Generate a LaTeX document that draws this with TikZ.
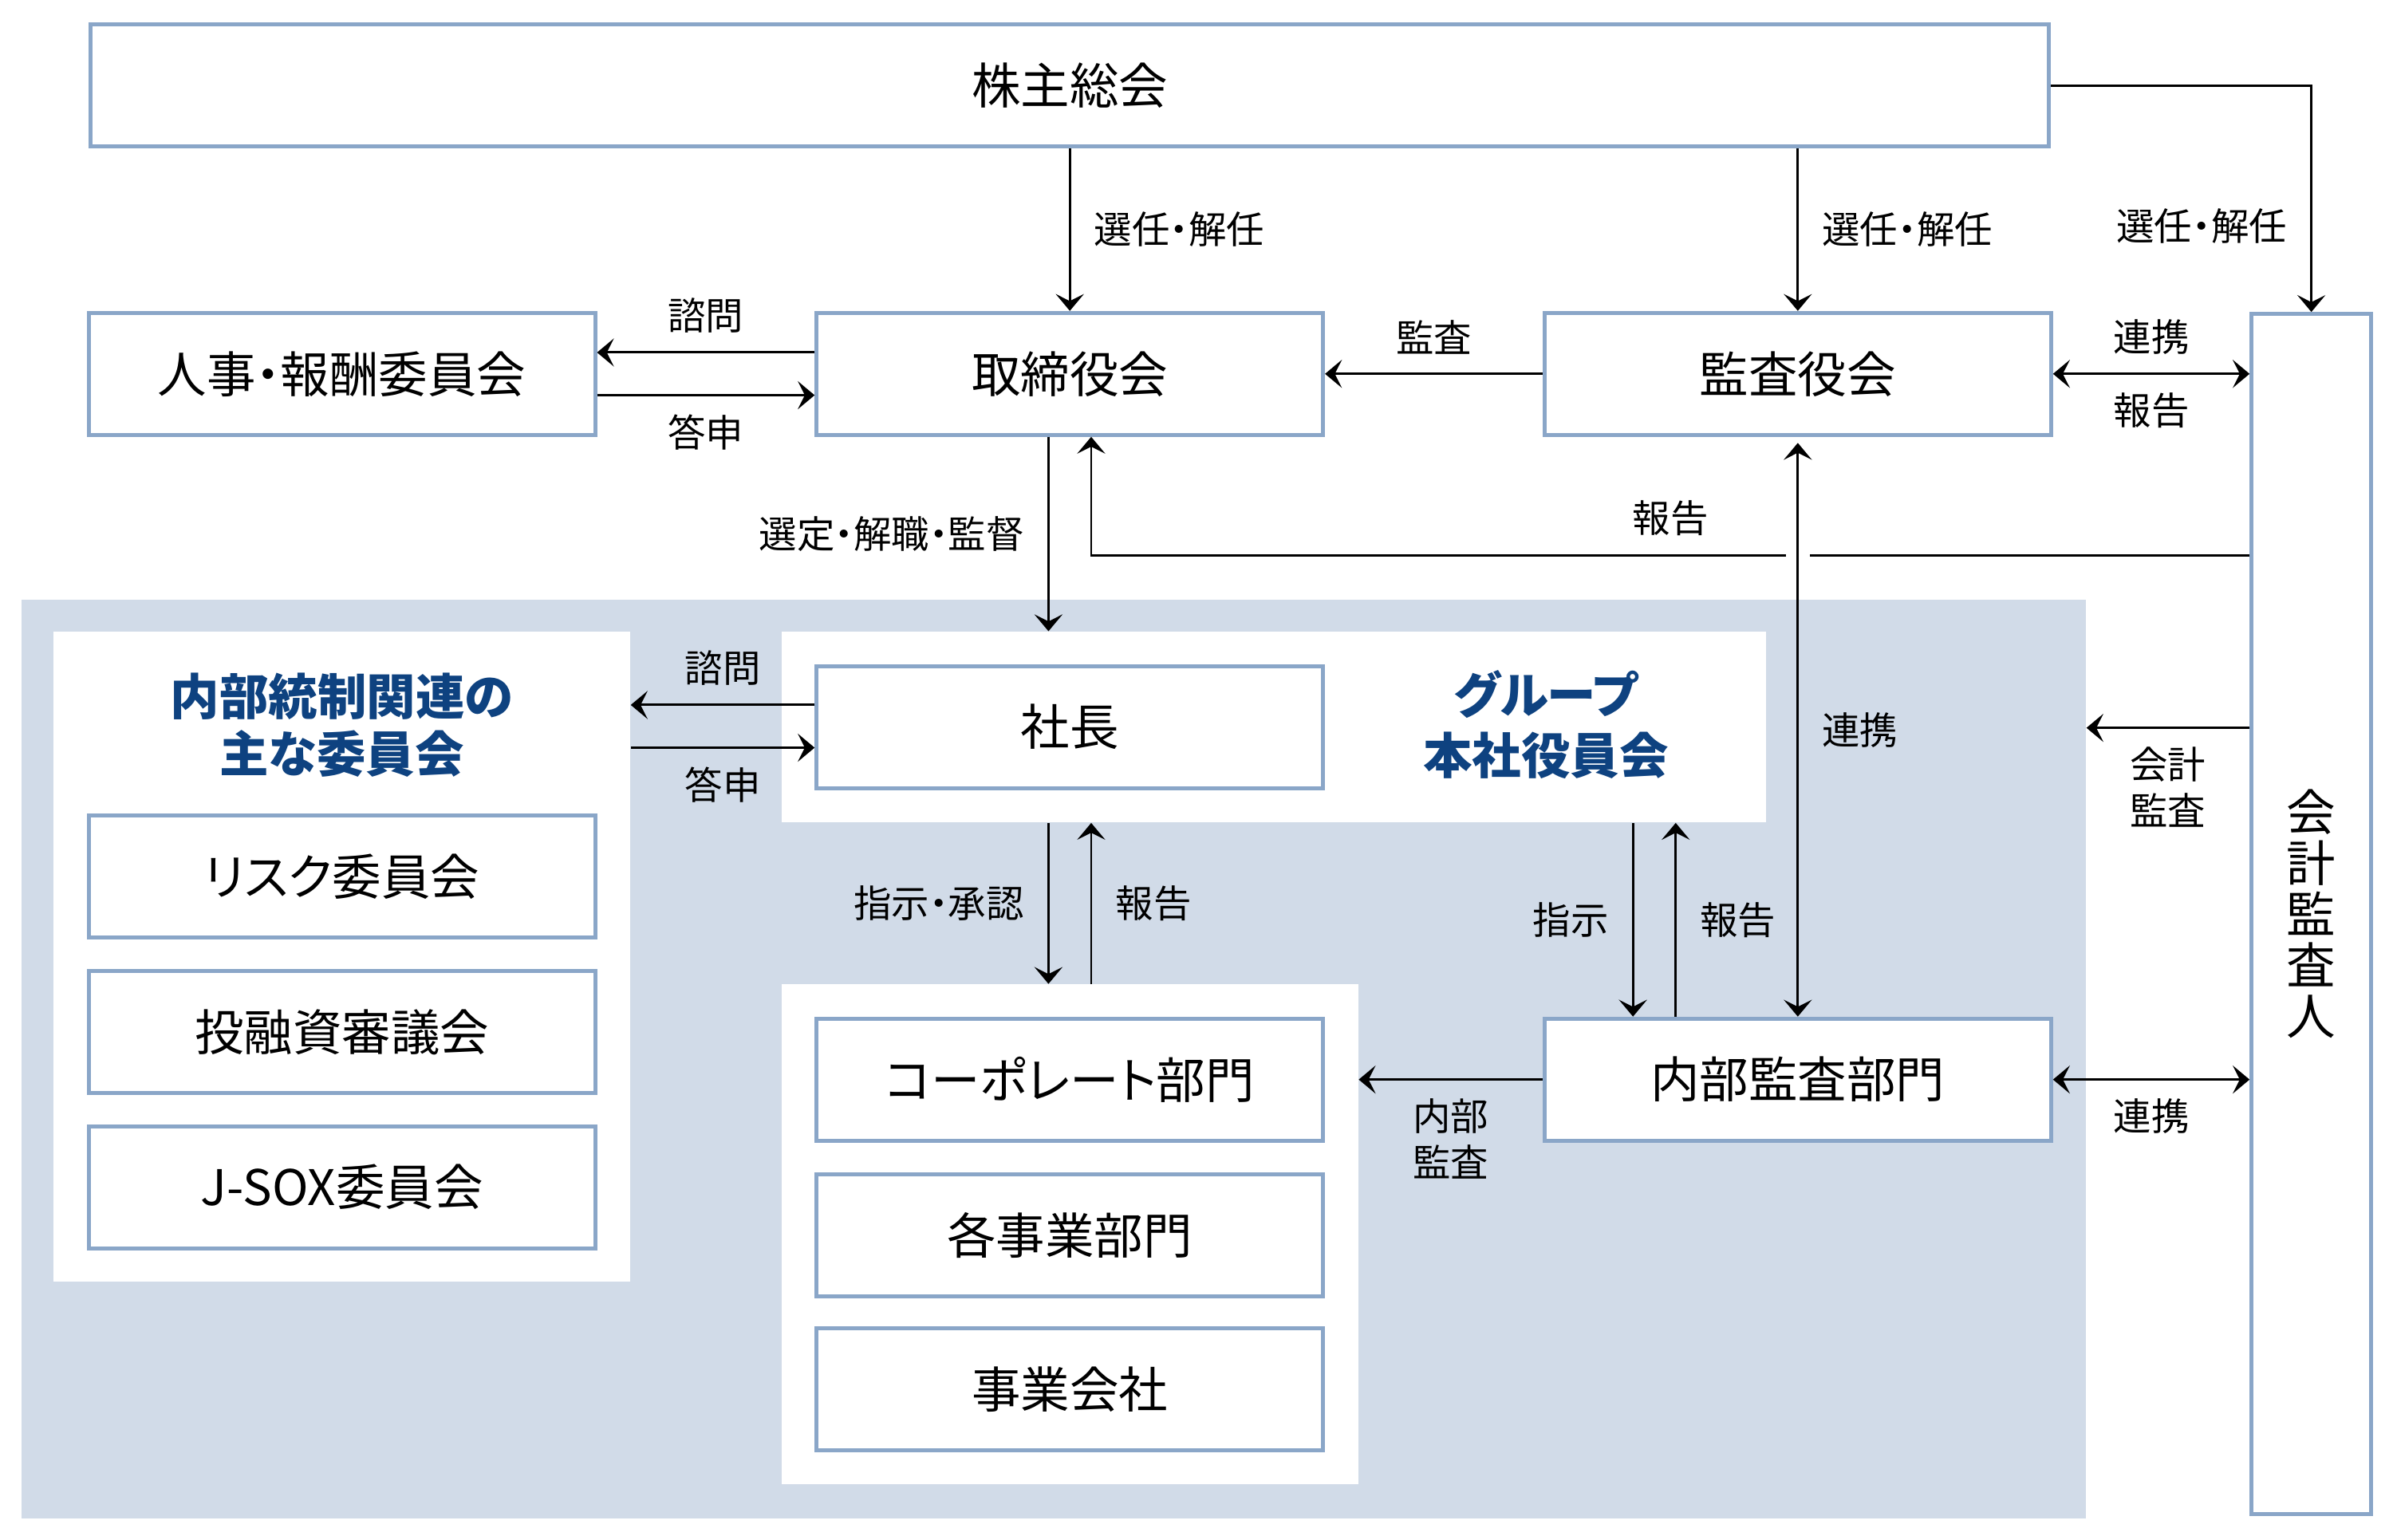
\documentclass[tikz,border=0pt]{standalone}
\usepackage{fontspec}
\setmainfont{Noto Sans CJK JP}[RawFeature=+palt]
\usetikzlibrary{arrows.meta,calc}

\definecolor{boxline}{RGB}{138,166,200}
\definecolor{shade}{RGB}{209,219,232}
\definecolor{titleblue}{RGB}{14,66,128}

\begin{document}
\begin{tikzpicture} [
    x=0.01913cm, y=-0.01913cm,
    >={Stealth[length=6pt,width=10pt,inset=2.5pt]},
    block/.style    = { rectangle, draw=boxline, line width=1.4pt, fill=white,
                        text centered, minimum width=6.35cm, minimum height=1.53cm,
                        font=\fontsize{17.5}{21}\selectfont },
    panel/.style    = { rectangle, draw=none, fill=white, inner sep=0pt },
    headtext/.style = { text=titleblue, align=center,
                        font=\fontsize{17.5}{20.5}\selectfont\bfseries },
    line/.style     = { draw, line width=0.85pt, ->},
    twoway/.style   = { draw, line width=0.85pt, <->},
    lbl/.style      = { font=\fontsize{13.5}{16.5}\selectfont, align=center,
                        inner xsep=8.3pt, inner ysep=6.5pt },
  ]

  \useasboundingbox (0,0) rectangle (1568,1009);

  % Define background areas
  \node[panel, fill=shade, minimum width=25.88cm, minimum height=11.52cm] (internal) at (690.5,694) {};
  \node[panel, minimum width=7.23cm, minimum height=8.15cm] (ctrlpanel) at (224,627) {};
  \node[panel, minimum width=12.34cm, minimum height=2.39cm] (execpanel) at (834.5,476.5) {};
  \node[panel, minimum width=7.23cm, minimum height=6.27cm] (deptpanel) at (701,809) {};

  % Define nodes
  \node[block, minimum width=24.55cm] (agm) at (701,56) {株主総会};
  \node[block] (hr) at (224,245) {人事・報酬委員会};
  \node[block] (board) at (701,245) {取締役会};
  \node[block] (auditboard) at (1178,245) {監査役会};
  \node[block, minimum width=1.5cm, minimum height=15.05cm, align=center,
        font=\fontsize{17.5}{18.2}\selectfont] (acc) at (1514.5,599) {会\\計\\監\\査\\人};

  \node[headtext] (ctrltitle) at (224,475) {内部統制関連の\\主な委員会};
  \node[block] (risk) at (224,574.5) {リスク委員会};
  \node[block] (invest) at (224,676.5) {投融資審議会};
  \node[block] (jsox) at (224,778) {J-SOX委員会};

  \node[block] (pres) at (701,476.5) {社長};
  \node[headtext, font=\fontsize{17.5}{21.5}\selectfont\bfseries] (grouptitle) at (1013,475) {グループ\\本社役員会};

  \node[block] (corp) at (701,707.5) {コーポレート部門};
  \node[block] (biz) at (701,809.5) {各事業部門};
  \node[block] (subs) at (701,910.5) {事業会社};

  \node[block] (audit) at (1178,707.5) {内部監査部門};

  % connect the nodes
  \path [line] (agm.south) -- node[lbl, right]{選任・解任} (board.north);
  \path [line] (agm.south -| auditboard.north) -- node[lbl, right]{選任・解任} (auditboard.north);
  \path [line] (agm.east) -| node[lbl, left, pos=0.81]{選任・解任} (acc.north);
  \path [line] (board.west |- 0,231) -- node[lbl, above]{諮問} (hr.east |- 0,231);
  \path [line] (hr.east |- 0,259) -- node[lbl, below]{答申} (board.west |- 0,259);
  \path [line] (auditboard.west) -- node[lbl, above]{監査} (board.east);
  \path [twoway] (auditboard.east) -- node[lbl, above]{連携} node[lbl, below]{報告} (acc.west |- auditboard.east);
  \path [line] (acc.west |- 0,364) -| node[lbl, above, pos=0.25]{報告} (715,0 |- board.south);
  \path [line] (687,0 |- board.south) -- node[lbl, left]{選定・解職・監督} (687,0 |- execpanel.north);

  \path [draw=white, line width=4pt] ($(auditboard.south |- 0,364)+(-8,0)$) -- ($(auditboard.south |- 0,364)+(8,0)$);
  \path [twoway] ($(auditboard.south)+(0,4)$) -- node[lbl, right]{連携} (audit.north);

  \path [line] (pres.west |- 0,462) -- node[lbl, above]{諮問} (ctrlpanel.east |- 0,462);
  \path [line] (ctrlpanel.east |- 0,490) -- node[lbl, below]{答申} (pres.west |- 0,490);
  \path [line] (acc.west |- 0,477) -- node[lbl, below]{会計\\監査} (internal.east |- 0,477);

  \path [line] (687,0 |- execpanel.south) -- node[lbl, left]{指示・承認} (687,0 |- deptpanel.north);
  \path [line] (715,0 |- deptpanel.north) -- node[lbl, right]{報告} (715,0 |- execpanel.south);
  \path [line] (1070,0 |- execpanel.south) -- node[lbl, left]{指示} (1070,0 |- audit.north);
  \path [line] (1098,0 |- audit.north) -- node[lbl, right]{報告} (1098,0 |- execpanel.south);

  \path [line] (audit.west) -- node[lbl, below]{内部\\監査} (deptpanel.east |- audit.west);
  \path [twoway] (audit.east) -- node[lbl, below]{連携} (acc.west |- audit.east);
\end{tikzpicture}
\end{document}
